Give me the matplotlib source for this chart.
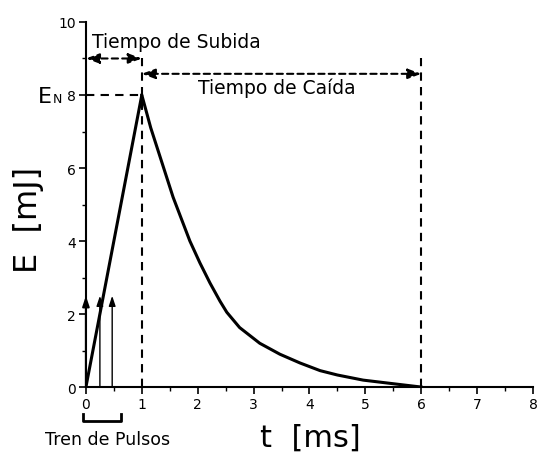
import matplotlib
matplotlib.use("Agg")
import matplotlib.pyplot as plt
from matplotlib.ticker import MultipleLocator

# Data
rise_t = [0.0, 1.0]
rise_E = [0.0, 8.0]
decay_t = [1.0, 1.16, 1.32, 1.56, 1.86, 2.04, 2.22, 2.4, 2.52, 2.75, 3.11, 3.47,
           3.83, 4.19, 4.5, 4.96, 5.56, 6.0]
decay_E = [8.0, 7.1, 6.34, 5.2, 4.0, 3.4, 2.85, 2.35, 2.05, 1.63, 1.2, 0.9,
           0.66, 0.45, 0.33, 0.19, 0.08, 0.0]
pulse_t = [0.0, 0.25, 0.47]
pulse_E = 2.5
E_N = 8.0
rise_end = 1.0
fall_end = 6.0
x_ticks = [0, 1, 2, 3, 4, 5, 6, 7, 8]
y_ticks = [0, 2, 4, 6, 8, 10]

fig = plt.figure(figsize=(5.37, 4.56), dpi=100)
ax = fig.add_axes([0.160, 0.149, 0.8326, 0.8006])
ax.set_xlim(0, 8)
ax.set_ylim(0, 10)
for s in ["top", "right"]:
    ax.spines[s].set_visible(False)
for s in ["left", "bottom"]:
    ax.spines[s].set_linewidth(1.5)
ax.set_xticks(x_ticks)
ax.set_yticks(y_ticks)
ax.xaxis.set_minor_locator(MultipleLocator(0.5))
ax.yaxis.set_minor_locator(MultipleLocator(1))
ax.tick_params(which="major", length=5, width=1.2, labelsize=10, direction="out", pad=2)
ax.tick_params(which="minor", length=3, width=1.0, direction="out")

ax.plot(rise_t, rise_E, color="black", lw=2.2, solid_capstyle="butt")
ax.plot(decay_t, decay_E, color="black", lw=2.2, solid_joinstyle="round")

# pulses
for i, t in enumerate(pulse_t):
    ax.annotate("", xy=(t, pulse_E), xytext=(t, 0),
                arrowprops=dict(arrowstyle="-|>,head_length=0.6,head_width=0.2",
                                color="black", lw=1.5 if i == 0 else 1.0,
                                shrinkA=0, shrinkB=0), annotation_clip=False)

dash = dict(color="black", lw=1.5, ls=(0, (4, 3)))
ax.plot([rise_end, rise_end], [0, 9.0], **dash)
ax.plot([fall_end, fall_end], [0, 9.0], **dash)
ax.plot([0, rise_end], [E_N, E_N], **dash)

arrow_kw = dict(arrowstyle="<|-|>,head_length=0.8,head_width=0.3", color="black",
                lw=1.5, ls=(0, (3, 2)), shrinkA=0, shrinkB=0)
ax.annotate("", xy=(0, 9.0), xytext=(rise_end, 9.0), arrowprops=arrow_kw)
ax.annotate("", xy=(rise_end, 8.58), xytext=(fall_end, 8.58), arrowprops=arrow_kw)

ax.text(0.1, 9.2, "Tiempo de Subida", fontsize=13.5, ha="left", va="bottom")
ax.text(2.0, 8.2, "Tiempo de Caída", fontsize=13.5, ha="left", va="center")

# E_N label
fig.text(52 / 537, 1 - 103 / 456, "E", fontsize=16, ha="right", va="baseline")
fig.text(53 / 537, 1 - 103 / 456, "N", fontsize=9, ha="left", va="baseline")

# bracket for pulse train
ax.plot([-0.05, -0.05, 0.63, 0.63], [-0.75, -0.93, -0.93, -0.75], color="black",
        lw=2, clip_on=False)
fig.text(45 / 537, 1 - 440 / 456, "Tren de Pulsos", fontsize=12.5, ha="left", va="center")

fig.text(310 / 537, 1 - 438 / 456, "t  [ms]", fontsize=22, ha="center", va="center")
fig.text(28 / 537, 1 - 220 / 456, "E  [mJ]", fontsize=23, ha="center", va="center",
         rotation=90)

fig.savefig("out.png", dpi=100)
